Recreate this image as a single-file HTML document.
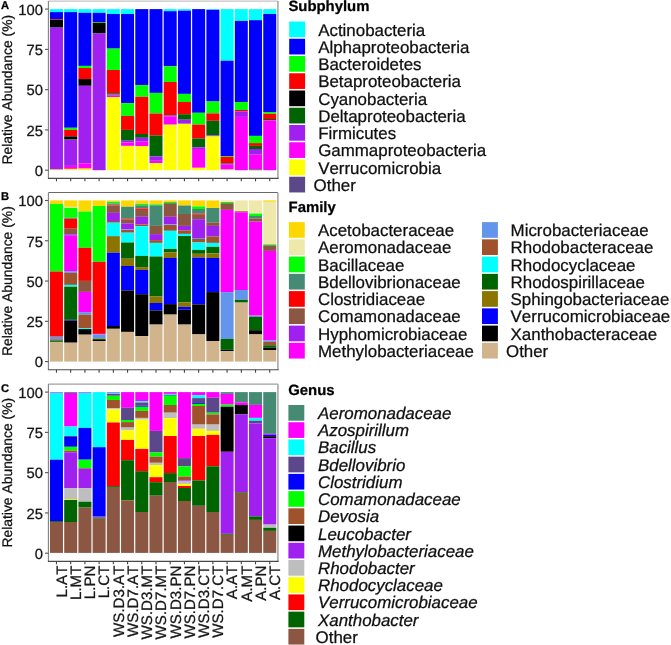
<!DOCTYPE html>
<html><head><meta charset="utf-8"><style>
html,body{margin:0;padding:0;background:#fff;width:671px;height:645px;overflow:hidden}
svg text{font-family:"Liberation Sans", sans-serif;stroke:#000;stroke-width:0.35px;stroke-opacity:0.7;text-rendering:geometricPrecision;font-kerning:none;font-feature-settings:'kern' 0}
</style></head><body>
<svg width="671" height="645" viewBox="0 0 671 645" style="display:block;will-change:transform">
<rect x="0" y="0" width="671" height="645" fill="#fff"/>
<rect x="49.97" y="9.1" width="13" height="3" fill="#00FFFF"/>
<rect x="49.97" y="12.1" width="13" height="7" fill="#0000FF"/>
<rect x="49.97" y="19.1" width="13" height="0.7" fill="#FF0000"/>
<rect x="49.97" y="19.8" width="13" height="7.8" fill="#000000"/>
<rect x="49.97" y="27.6" width="13" height="142" fill="#A020F0"/>
<rect x="49.97" y="169.6" width="13" height="0.6" fill="#FFFF00"/>
<rect x="64.19" y="9.1" width="13" height="3" fill="#00FFFF"/>
<rect x="64.19" y="12.1" width="13" height="115.7" fill="#0000FF"/>
<rect x="64.19" y="127.8" width="13" height="2.1" fill="#00FF00"/>
<rect x="64.19" y="129.9" width="13" height="6.5" fill="#FF0000"/>
<rect x="64.19" y="136.4" width="13" height="3" fill="#000000"/>
<rect x="64.19" y="139.4" width="13" height="0.5" fill="#006400"/>
<rect x="64.19" y="139.9" width="13" height="26" fill="#A020F0"/>
<rect x="64.19" y="165.9" width="13" height="3" fill="#FF00FF"/>
<rect x="64.19" y="168.9" width="13" height="1.3" fill="#FFFF00"/>
<rect x="78.41" y="9.1" width="13" height="3.7" fill="#00FFFF"/>
<rect x="78.41" y="12.8" width="13" height="53.1" fill="#0000FF"/>
<rect x="78.41" y="65.9" width="13" height="2.1" fill="#00FF00"/>
<rect x="78.41" y="68" width="13" height="11.1" fill="#FF0000"/>
<rect x="78.41" y="79.1" width="13" height="6.7" fill="#000000"/>
<rect x="78.41" y="85.8" width="13" height="77.5" fill="#A020F0"/>
<rect x="78.41" y="163.3" width="13" height="5.3" fill="#FF00FF"/>
<rect x="78.41" y="168.6" width="13" height="1.6" fill="#FFFF00"/>
<rect x="92.62" y="9.1" width="13" height="3.7" fill="#00FFFF"/>
<rect x="92.62" y="12.8" width="13" height="9.2" fill="#0000FF"/>
<rect x="92.62" y="22" width="13" height="0.7" fill="#00FF00"/>
<rect x="92.62" y="22.7" width="13" height="10.8" fill="#000000"/>
<rect x="92.62" y="33.5" width="13" height="136.7" fill="#A020F0"/>
<rect x="106.84" y="9.1" width="13" height="4.9" fill="#00FFFF"/>
<rect x="106.84" y="14" width="13" height="34.6" fill="#0000FF"/>
<rect x="106.84" y="48.6" width="13" height="21.4" fill="#00FF00"/>
<rect x="106.84" y="70" width="13" height="23.2" fill="#FF0000"/>
<rect x="106.84" y="93.2" width="13" height="1.3" fill="#006400"/>
<rect x="106.84" y="94.5" width="13" height="1.2" fill="#A020F0"/>
<rect x="106.84" y="95.7" width="13" height="1.3" fill="#FF00FF"/>
<rect x="106.84" y="97" width="13" height="73.2" fill="#FFFF00"/>
<rect x="121.06" y="9.1" width="13" height="4.9" fill="#00FFFF"/>
<rect x="121.06" y="14" width="13" height="89.1" fill="#0000FF"/>
<rect x="121.06" y="103.1" width="13" height="12.8" fill="#00FF00"/>
<rect x="121.06" y="115.9" width="13" height="14" fill="#FF0000"/>
<rect x="121.06" y="129.9" width="13" height="10.8" fill="#006400"/>
<rect x="121.06" y="140.7" width="13" height="1.7" fill="#A020F0"/>
<rect x="121.06" y="142.4" width="13" height="3.5" fill="#FF00FF"/>
<rect x="121.06" y="145.9" width="13" height="24.3" fill="#FFFF00"/>
<rect x="135.28" y="9.1" width="13" height="76" fill="#0000FF"/>
<rect x="135.28" y="85.1" width="13" height="11.7" fill="#00FF00"/>
<rect x="135.28" y="96.8" width="13" height="37.2" fill="#FF0000"/>
<rect x="135.28" y="134" width="13" height="3.8" fill="#006400"/>
<rect x="135.28" y="137.8" width="13" height="3.9" fill="#A020F0"/>
<rect x="135.28" y="141.7" width="13" height="4.6" fill="#FF00FF"/>
<rect x="135.28" y="146.3" width="13" height="23.9" fill="#FFFF00"/>
<rect x="149.5" y="9.1" width="13" height="83.8" fill="#0000FF"/>
<rect x="149.5" y="92.9" width="13" height="20.6" fill="#00FF00"/>
<rect x="149.5" y="113.5" width="13" height="21.9" fill="#FF0000"/>
<rect x="149.5" y="135.4" width="13" height="21" fill="#006400"/>
<rect x="149.5" y="156.4" width="13" height="4.4" fill="#A020F0"/>
<rect x="149.5" y="160.8" width="13" height="2.3" fill="#FF00FF"/>
<rect x="149.5" y="163.1" width="13" height="7.1" fill="#FFFF00"/>
<rect x="163.71" y="9.1" width="13" height="2.1" fill="#00FFFF"/>
<rect x="163.71" y="11.2" width="13" height="55.1" fill="#0000FF"/>
<rect x="163.71" y="66.3" width="13" height="15.7" fill="#00FF00"/>
<rect x="163.71" y="82" width="13" height="33.1" fill="#FF0000"/>
<rect x="163.71" y="115.1" width="13" height="0.6" fill="#006400"/>
<rect x="163.71" y="115.7" width="13" height="0.6" fill="#A020F0"/>
<rect x="163.71" y="116.3" width="13" height="8.4" fill="#FF00FF"/>
<rect x="163.71" y="124.7" width="13" height="45.5" fill="#FFFF00"/>
<rect x="177.93" y="9.1" width="13" height="1.6" fill="#00FFFF"/>
<rect x="177.93" y="10.7" width="13" height="83.2" fill="#0000FF"/>
<rect x="177.93" y="93.9" width="13" height="8.1" fill="#00FF00"/>
<rect x="177.93" y="102" width="13" height="12.2" fill="#FF0000"/>
<rect x="177.93" y="114.2" width="13" height="5.5" fill="#006400"/>
<rect x="177.93" y="119.7" width="13" height="4.1" fill="#A020F0"/>
<rect x="177.93" y="123.8" width="13" height="46.4" fill="#FFFF00"/>
<rect x="192.15" y="9.1" width="13" height="103.7" fill="#0000FF"/>
<rect x="192.15" y="112.8" width="13" height="11.8" fill="#00FF00"/>
<rect x="192.15" y="124.6" width="13" height="13.9" fill="#FF0000"/>
<rect x="192.15" y="138.5" width="13" height="8.8" fill="#006400"/>
<rect x="192.15" y="147.3" width="13" height="1.7" fill="#A020F0"/>
<rect x="192.15" y="149" width="13" height="18.8" fill="#FF00FF"/>
<rect x="192.15" y="167.8" width="13" height="2.4" fill="#FFFF00"/>
<rect x="206.37" y="9.1" width="13" height="0.7" fill="#00FFFF"/>
<rect x="206.37" y="9.8" width="13" height="91.7" fill="#0000FF"/>
<rect x="206.37" y="101.5" width="13" height="11.9" fill="#00FF00"/>
<rect x="206.37" y="113.4" width="13" height="7.4" fill="#FF0000"/>
<rect x="206.37" y="120.8" width="13" height="14.6" fill="#006400"/>
<rect x="206.37" y="135.4" width="13" height="1" fill="#A020F0"/>
<rect x="206.37" y="136.4" width="13" height="33.8" fill="#FFFF00"/>
<rect x="220.59" y="9.1" width="13" height="51.6" fill="#00FFFF"/>
<rect x="220.59" y="60.7" width="13" height="95.3" fill="#0000FF"/>
<rect x="220.59" y="156" width="13" height="0.8" fill="#00FF00"/>
<rect x="220.59" y="156.8" width="13" height="6.3" fill="#FF0000"/>
<rect x="220.59" y="163.1" width="13" height="0.7" fill="#006400"/>
<rect x="220.59" y="163.8" width="13" height="0.9" fill="#A020F0"/>
<rect x="220.59" y="164.7" width="13" height="4.9" fill="#FF00FF"/>
<rect x="220.59" y="169.6" width="13" height="0.6" fill="#FFFF00"/>
<rect x="234.8" y="9.1" width="13" height="11.8" fill="#00FFFF"/>
<rect x="234.8" y="20.9" width="13" height="81.1" fill="#0000FF"/>
<rect x="234.8" y="102" width="13" height="8" fill="#00FF00"/>
<rect x="234.8" y="110" width="13" height="1.4" fill="#FF0000"/>
<rect x="234.8" y="111.4" width="13" height="5.5" fill="#A020F0"/>
<rect x="234.8" y="116.9" width="13" height="53.3" fill="#FF00FF"/>
<rect x="249.02" y="9.1" width="13" height="11.1" fill="#00FFFF"/>
<rect x="249.02" y="20.2" width="13" height="115.7" fill="#0000FF"/>
<rect x="249.02" y="135.9" width="13" height="7.2" fill="#00FF00"/>
<rect x="249.02" y="143.1" width="13" height="2.8" fill="#FF0000"/>
<rect x="249.02" y="145.9" width="13" height="3.1" fill="#006400"/>
<rect x="249.02" y="149" width="13" height="5.7" fill="#A020F0"/>
<rect x="249.02" y="154.7" width="13" height="14.9" fill="#FF00FF"/>
<rect x="249.02" y="169.6" width="13" height="0.6" fill="#006400"/>
<rect x="263.24" y="9.1" width="13" height="4.9" fill="#00FFFF"/>
<rect x="263.24" y="14" width="13" height="98" fill="#0000FF"/>
<rect x="263.24" y="112" width="13" height="1.8" fill="#00FF00"/>
<rect x="263.24" y="113.8" width="13" height="5.2" fill="#FF0000"/>
<rect x="263.24" y="119" width="13" height="1.4" fill="#006400"/>
<rect x="263.24" y="120.4" width="13" height="49.8" fill="#FF00FF"/>
<line x1="48.4" y1="1.1" x2="277.9" y2="1.1" stroke="#c4c4c4" stroke-width="1.2"/>
<line x1="277.9" y1="1.1" x2="277.9" y2="178.35" stroke="#a8a8a8" stroke-width="1.6"/>
<line x1="48.4" y1="1.1" x2="48.4" y2="178.35" stroke="#808080" stroke-width="1.1"/>
<line x1="47.9" y1="178.35" x2="278.7" y2="178.35" stroke="#4a4a4a" stroke-width="1.1"/>
<line x1="45" y1="170.2" x2="48.4" y2="170.2" stroke="#555" stroke-width="1.1"/>
<text x="43" y="176.03" font-size="14.8" text-anchor="end" fill="#1a1a1a">0</text>
<line x1="45" y1="129.92" x2="48.4" y2="129.92" stroke="#555" stroke-width="1.1"/>
<text x="43" y="135.75" font-size="14.8" text-anchor="end" fill="#1a1a1a">25</text>
<line x1="45" y1="89.65" x2="48.4" y2="89.65" stroke="#555" stroke-width="1.1"/>
<text x="43" y="95.48" font-size="14.8" text-anchor="end" fill="#1a1a1a">50</text>
<line x1="45" y1="49.37" x2="48.4" y2="49.37" stroke="#555" stroke-width="1.1"/>
<text x="43" y="55.2" font-size="14.8" text-anchor="end" fill="#1a1a1a">75</text>
<line x1="45" y1="9.1" x2="48.4" y2="9.1" stroke="#555" stroke-width="1.1"/>
<text x="43" y="14.93" font-size="14.8" text-anchor="end" fill="#1a1a1a">100</text>
<line x1="56.47" y1="178.35" x2="56.47" y2="181.35" stroke="#444" stroke-width="1.1"/>
<line x1="70.69" y1="178.35" x2="70.69" y2="181.35" stroke="#444" stroke-width="1.1"/>
<line x1="84.91" y1="178.35" x2="84.91" y2="181.35" stroke="#444" stroke-width="1.1"/>
<line x1="99.12" y1="178.35" x2="99.12" y2="181.35" stroke="#444" stroke-width="1.1"/>
<line x1="113.34" y1="178.35" x2="113.34" y2="181.35" stroke="#444" stroke-width="1.1"/>
<line x1="127.56" y1="178.35" x2="127.56" y2="181.35" stroke="#444" stroke-width="1.1"/>
<line x1="141.78" y1="178.35" x2="141.78" y2="181.35" stroke="#444" stroke-width="1.1"/>
<line x1="156" y1="178.35" x2="156" y2="181.35" stroke="#444" stroke-width="1.1"/>
<line x1="170.21" y1="178.35" x2="170.21" y2="181.35" stroke="#444" stroke-width="1.1"/>
<line x1="184.43" y1="178.35" x2="184.43" y2="181.35" stroke="#444" stroke-width="1.1"/>
<line x1="198.65" y1="178.35" x2="198.65" y2="181.35" stroke="#444" stroke-width="1.1"/>
<line x1="212.87" y1="178.35" x2="212.87" y2="181.35" stroke="#444" stroke-width="1.1"/>
<line x1="227.09" y1="178.35" x2="227.09" y2="181.35" stroke="#444" stroke-width="1.1"/>
<line x1="241.3" y1="178.35" x2="241.3" y2="181.35" stroke="#444" stroke-width="1.1"/>
<line x1="255.52" y1="178.35" x2="255.52" y2="181.35" stroke="#444" stroke-width="1.1"/>
<line x1="269.74" y1="178.35" x2="269.74" y2="181.35" stroke="#444" stroke-width="1.1"/>
<text x="0" y="0" font-size="13.9" text-anchor="middle" fill="#111" transform="translate(12.2,89.72) rotate(-90)">Relative Abundance (%)</text>
<text x="0.9" y="8.6" font-size="11.2" font-weight="bold" fill="#000">A</text>
<rect x="49.97" y="200.4" width="13" height="3.5" fill="#FFD700"/>
<rect x="49.97" y="203.9" width="13" height="67.6" fill="#00FF00"/>
<rect x="49.97" y="271.5" width="13" height="65.2" fill="#FF0000"/>
<rect x="49.97" y="336.7" width="13" height="2.6" fill="#6495ED"/>
<rect x="49.97" y="339.3" width="13" height="1.1" fill="#A0522D"/>
<rect x="49.97" y="340.4" width="13" height="1.5" fill="#006400"/>
<rect x="49.97" y="341.9" width="13" height="19.7" fill="#D2B48C"/>
<rect x="64.19" y="200.4" width="13" height="6.5" fill="#FFD700"/>
<rect x="64.19" y="206.9" width="13" height="0.9" fill="#EEE8AA"/>
<rect x="64.19" y="207.8" width="13" height="10" fill="#00FF00"/>
<rect x="64.19" y="217.8" width="13" height="1" fill="#458B74"/>
<rect x="64.19" y="218.8" width="13" height="9.9" fill="#FF0000"/>
<rect x="64.19" y="228.7" width="13" height="5.6" fill="#8B5742"/>
<rect x="64.19" y="234.3" width="13" height="1.4" fill="#A020F0"/>
<rect x="64.19" y="235.7" width="13" height="35.4" fill="#FF00FF"/>
<rect x="64.19" y="271.1" width="13" height="1.8" fill="#6495ED"/>
<rect x="64.19" y="272.9" width="13" height="12" fill="#A0522D"/>
<rect x="64.19" y="284.9" width="13" height="1.8" fill="#00FFFF"/>
<rect x="64.19" y="286.7" width="13" height="33.1" fill="#006400"/>
<rect x="64.19" y="319.8" width="13" height="0.7" fill="#0000FF"/>
<rect x="64.19" y="320.5" width="13" height="22.2" fill="#000000"/>
<rect x="64.19" y="342.7" width="13" height="18.9" fill="#D2B48C"/>
<rect x="78.41" y="200.4" width="13" height="11.1" fill="#FFD700"/>
<rect x="78.41" y="211.5" width="13" height="36.3" fill="#00FF00"/>
<rect x="78.41" y="247.8" width="13" height="33.1" fill="#FF0000"/>
<rect x="78.41" y="280.9" width="13" height="11" fill="#8B5742"/>
<rect x="78.41" y="291.9" width="13" height="20.2" fill="#FF00FF"/>
<rect x="78.41" y="312.1" width="13" height="2.5" fill="#6495ED"/>
<rect x="78.41" y="314.6" width="13" height="13.5" fill="#A0522D"/>
<rect x="78.41" y="328.1" width="13" height="1" fill="#00FFFF"/>
<rect x="78.41" y="329.1" width="13" height="5.6" fill="#000000"/>
<rect x="78.41" y="334.7" width="13" height="26.9" fill="#D2B48C"/>
<rect x="92.62" y="200.4" width="13" height="5.6" fill="#FFD700"/>
<rect x="92.62" y="206" width="13" height="55.8" fill="#00FF00"/>
<rect x="92.62" y="261.8" width="13" height="72.1" fill="#FF0000"/>
<rect x="92.62" y="333.9" width="13" height="0.6" fill="#FF00FF"/>
<rect x="92.62" y="334.5" width="13" height="3.9" fill="#6495ED"/>
<rect x="92.62" y="338.4" width="13" height="0.6" fill="#A0522D"/>
<rect x="92.62" y="339" width="13" height="1" fill="#006400"/>
<rect x="92.62" y="340" width="13" height="1" fill="#000000"/>
<rect x="92.62" y="341" width="13" height="20.6" fill="#D2B48C"/>
<rect x="106.84" y="200.4" width="13" height="1.4" fill="#FFD700"/>
<rect x="106.84" y="201.8" width="13" height="1.6" fill="#00FF00"/>
<rect x="106.84" y="203.4" width="13" height="1.2" fill="#458B74"/>
<rect x="106.84" y="204.6" width="13" height="0.9" fill="#FF0000"/>
<rect x="106.84" y="205.5" width="13" height="7.4" fill="#8B5742"/>
<rect x="106.84" y="212.9" width="13" height="8.1" fill="#A020F0"/>
<rect x="106.84" y="221" width="13" height="1.7" fill="#A0522D"/>
<rect x="106.84" y="222.7" width="13" height="13.3" fill="#00FFFF"/>
<rect x="106.84" y="236" width="13" height="0.6" fill="#006400"/>
<rect x="106.84" y="236.6" width="13" height="16.1" fill="#8B7500"/>
<rect x="106.84" y="252.7" width="13" height="73.3" fill="#0000FF"/>
<rect x="106.84" y="326" width="13" height="2.8" fill="#000000"/>
<rect x="106.84" y="328.8" width="13" height="32.8" fill="#D2B48C"/>
<rect x="121.06" y="200.4" width="13" height="6.3" fill="#FFD700"/>
<rect x="121.06" y="206.7" width="13" height="11.8" fill="#458B74"/>
<rect x="121.06" y="218.5" width="13" height="1" fill="#FF0000"/>
<rect x="121.06" y="219.5" width="13" height="3.9" fill="#8B5742"/>
<rect x="121.06" y="223.4" width="13" height="6" fill="#A020F0"/>
<rect x="121.06" y="229.4" width="13" height="0.6" fill="#6495ED"/>
<rect x="121.06" y="230" width="13" height="2.7" fill="#A0522D"/>
<rect x="121.06" y="232.7" width="13" height="9.8" fill="#00FFFF"/>
<rect x="121.06" y="242.5" width="13" height="16.2" fill="#006400"/>
<rect x="121.06" y="258.7" width="13" height="7.3" fill="#8B7500"/>
<rect x="121.06" y="266" width="13" height="24.5" fill="#0000FF"/>
<rect x="121.06" y="290.5" width="13" height="41.4" fill="#000000"/>
<rect x="121.06" y="331.9" width="13" height="29.7" fill="#D2B48C"/>
<rect x="135.28" y="200.4" width="13" height="3.5" fill="#FFD700"/>
<rect x="135.28" y="203.9" width="13" height="1.4" fill="#00FF00"/>
<rect x="135.28" y="205.3" width="13" height="3.2" fill="#458B74"/>
<rect x="135.28" y="208.5" width="13" height="1.4" fill="#FF0000"/>
<rect x="135.28" y="209.9" width="13" height="6.9" fill="#8B5742"/>
<rect x="135.28" y="216.8" width="13" height="7.6" fill="#A020F0"/>
<rect x="135.28" y="224.4" width="13" height="1.8" fill="#A0522D"/>
<rect x="135.28" y="226.2" width="13" height="29.7" fill="#00FFFF"/>
<rect x="135.28" y="255.9" width="13" height="11.2" fill="#006400"/>
<rect x="135.28" y="267.1" width="13" height="2.8" fill="#8B7500"/>
<rect x="135.28" y="269.9" width="13" height="24.3" fill="#0000FF"/>
<rect x="135.28" y="294.2" width="13" height="41.9" fill="#000000"/>
<rect x="135.28" y="336.1" width="13" height="25.5" fill="#D2B48C"/>
<rect x="149.5" y="200.4" width="13" height="3.9" fill="#FFD700"/>
<rect x="149.5" y="204.3" width="13" height="1" fill="#00FF00"/>
<rect x="149.5" y="205.3" width="13" height="20.6" fill="#458B74"/>
<rect x="149.5" y="225.9" width="13" height="8.2" fill="#8B5742"/>
<rect x="149.5" y="234.1" width="13" height="6" fill="#A020F0"/>
<rect x="149.5" y="240.1" width="13" height="2.8" fill="#A0522D"/>
<rect x="149.5" y="242.9" width="13" height="13.6" fill="#00FFFF"/>
<rect x="149.5" y="256.5" width="13" height="40" fill="#006400"/>
<rect x="149.5" y="296.5" width="13" height="6.5" fill="#8B7500"/>
<rect x="149.5" y="303" width="13" height="7.4" fill="#0000FF"/>
<rect x="149.5" y="310.4" width="13" height="14.2" fill="#000000"/>
<rect x="149.5" y="324.6" width="13" height="37" fill="#D2B48C"/>
<rect x="163.71" y="200.4" width="13" height="1.6" fill="#FFD700"/>
<rect x="163.71" y="202" width="13" height="1.2" fill="#00FF00"/>
<rect x="163.71" y="203.2" width="13" height="13.6" fill="#8B5742"/>
<rect x="163.71" y="216.8" width="13" height="7.6" fill="#A020F0"/>
<rect x="163.71" y="224.4" width="13" height="0.6" fill="#6495ED"/>
<rect x="163.71" y="225" width="13" height="5.8" fill="#A0522D"/>
<rect x="163.71" y="230.8" width="13" height="18.1" fill="#00FFFF"/>
<rect x="163.71" y="248.9" width="13" height="3.5" fill="#006400"/>
<rect x="163.71" y="252.4" width="13" height="5.6" fill="#8B7500"/>
<rect x="163.71" y="258" width="13" height="46.1" fill="#0000FF"/>
<rect x="163.71" y="304.1" width="13" height="10.5" fill="#000000"/>
<rect x="163.71" y="314.6" width="13" height="47" fill="#D2B48C"/>
<rect x="177.93" y="200.4" width="13" height="5.1" fill="#FFD700"/>
<rect x="177.93" y="205.5" width="13" height="8.5" fill="#458B74"/>
<rect x="177.93" y="214" width="13" height="11.9" fill="#8B5742"/>
<rect x="177.93" y="225.9" width="13" height="4.5" fill="#A020F0"/>
<rect x="177.93" y="230.4" width="13" height="3.5" fill="#A0522D"/>
<rect x="177.93" y="233.9" width="13" height="2.1" fill="#00FFFF"/>
<rect x="177.93" y="236" width="13" height="66.3" fill="#006400"/>
<rect x="177.93" y="302.3" width="13" height="4.6" fill="#8B7500"/>
<rect x="177.93" y="306.9" width="13" height="2.8" fill="#0000FF"/>
<rect x="177.93" y="309.7" width="13" height="14.9" fill="#000000"/>
<rect x="177.93" y="324.6" width="13" height="37" fill="#D2B48C"/>
<rect x="192.15" y="200.4" width="13" height="6" fill="#FFD700"/>
<rect x="192.15" y="206.4" width="13" height="2.6" fill="#00FF00"/>
<rect x="192.15" y="209" width="13" height="4.6" fill="#458B74"/>
<rect x="192.15" y="213.6" width="13" height="1.1" fill="#FF0000"/>
<rect x="192.15" y="214.7" width="13" height="4.5" fill="#8B5742"/>
<rect x="192.15" y="219.2" width="13" height="18.8" fill="#A020F0"/>
<rect x="192.15" y="238" width="13" height="1" fill="#6495ED"/>
<rect x="192.15" y="239" width="13" height="3.5" fill="#A0522D"/>
<rect x="192.15" y="242.5" width="13" height="7.4" fill="#00FFFF"/>
<rect x="192.15" y="249.9" width="13" height="3.9" fill="#006400"/>
<rect x="192.15" y="253.8" width="13" height="3.8" fill="#8B7500"/>
<rect x="192.15" y="257.6" width="13" height="46.8" fill="#0000FF"/>
<rect x="192.15" y="304.4" width="13" height="30" fill="#000000"/>
<rect x="192.15" y="334.4" width="13" height="27.2" fill="#D2B48C"/>
<rect x="206.37" y="200.4" width="13" height="7.6" fill="#FFD700"/>
<rect x="206.37" y="208" width="13" height="14.4" fill="#458B74"/>
<rect x="206.37" y="222.4" width="13" height="3.5" fill="#8B5742"/>
<rect x="206.37" y="225.9" width="13" height="10.5" fill="#A020F0"/>
<rect x="206.37" y="236.4" width="13" height="6.5" fill="#A0522D"/>
<rect x="206.37" y="242.9" width="13" height="3.9" fill="#00FFFF"/>
<rect x="206.37" y="246.8" width="13" height="6.6" fill="#006400"/>
<rect x="206.37" y="253.4" width="13" height="4.6" fill="#8B7500"/>
<rect x="206.37" y="258" width="13" height="34.1" fill="#0000FF"/>
<rect x="206.37" y="292.1" width="13" height="48.9" fill="#000000"/>
<rect x="206.37" y="341" width="13" height="20.6" fill="#D2B48C"/>
<rect x="220.59" y="200.4" width="13" height="1.6" fill="#EEE8AA"/>
<rect x="220.59" y="202" width="13" height="1.2" fill="#00FF00"/>
<rect x="220.59" y="203.2" width="13" height="6.7" fill="#8B5742"/>
<rect x="220.59" y="209.9" width="13" height="82.2" fill="#FF00FF"/>
<rect x="220.59" y="292.1" width="13" height="46.8" fill="#6495ED"/>
<rect x="220.59" y="338.9" width="13" height="10.9" fill="#006400"/>
<rect x="220.59" y="349.8" width="13" height="1.4" fill="#000000"/>
<rect x="220.59" y="351.2" width="13" height="10.4" fill="#D2B48C"/>
<rect x="234.8" y="200.4" width="13" height="10.9" fill="#EEE8AA"/>
<rect x="234.8" y="211.3" width="13" height="0.9" fill="#8B5742"/>
<rect x="234.8" y="212.2" width="13" height="77.8" fill="#FF00FF"/>
<rect x="234.8" y="290" width="13" height="9.8" fill="#6495ED"/>
<rect x="234.8" y="299.8" width="13" height="2.8" fill="#006400"/>
<rect x="234.8" y="302.6" width="13" height="59" fill="#D2B48C"/>
<rect x="249.02" y="200.4" width="13" height="13.2" fill="#EEE8AA"/>
<rect x="249.02" y="213.6" width="13" height="2.4" fill="#00FF00"/>
<rect x="249.02" y="216" width="13" height="2.5" fill="#458B74"/>
<rect x="249.02" y="218.5" width="13" height="3.1" fill="#8B5742"/>
<rect x="249.02" y="221.6" width="13" height="94" fill="#FF00FF"/>
<rect x="249.02" y="315.6" width="13" height="1.1" fill="#6495ED"/>
<rect x="249.02" y="316.7" width="13" height="13.5" fill="#006400"/>
<rect x="249.02" y="330.2" width="13" height="4.2" fill="#000000"/>
<rect x="249.02" y="334.4" width="13" height="27.2" fill="#D2B48C"/>
<rect x="263.24" y="200.4" width="13" height="1.4" fill="#FFD700"/>
<rect x="263.24" y="201.8" width="13" height="42.5" fill="#EEE8AA"/>
<rect x="263.24" y="244.3" width="13" height="1" fill="#00FF00"/>
<rect x="263.24" y="245.3" width="13" height="5.6" fill="#8B5742"/>
<rect x="263.24" y="250.9" width="13" height="89.4" fill="#FF00FF"/>
<rect x="263.24" y="340.3" width="13" height="1.5" fill="#6495ED"/>
<rect x="263.24" y="341.8" width="13" height="3.5" fill="#A0522D"/>
<rect x="263.24" y="345.3" width="13" height="2.4" fill="#006400"/>
<rect x="263.24" y="347.7" width="13" height="2.3" fill="#000000"/>
<rect x="263.24" y="350" width="13" height="11.6" fill="#D2B48C"/>
<line x1="48.4" y1="192.5" x2="277.9" y2="192.5" stroke="#6a6a6a" stroke-width="1.2"/>
<line x1="277.9" y1="192.5" x2="277.9" y2="369.75" stroke="#a8a8a8" stroke-width="1.6"/>
<line x1="48.4" y1="192.5" x2="48.4" y2="369.75" stroke="#808080" stroke-width="1.1"/>
<line x1="47.9" y1="369.75" x2="278.7" y2="369.75" stroke="#4a4a4a" stroke-width="1.1"/>
<line x1="45" y1="361.6" x2="48.4" y2="361.6" stroke="#555" stroke-width="1.1"/>
<text x="43" y="367.43" font-size="14.8" text-anchor="end" fill="#1a1a1a">0</text>
<line x1="45" y1="321.33" x2="48.4" y2="321.33" stroke="#555" stroke-width="1.1"/>
<text x="43" y="327.15" font-size="14.8" text-anchor="end" fill="#1a1a1a">25</text>
<line x1="45" y1="281.05" x2="48.4" y2="281.05" stroke="#555" stroke-width="1.1"/>
<text x="43" y="286.88" font-size="14.8" text-anchor="end" fill="#1a1a1a">50</text>
<line x1="45" y1="240.78" x2="48.4" y2="240.78" stroke="#555" stroke-width="1.1"/>
<text x="43" y="246.6" font-size="14.8" text-anchor="end" fill="#1a1a1a">75</text>
<line x1="45" y1="200.5" x2="48.4" y2="200.5" stroke="#555" stroke-width="1.1"/>
<text x="43" y="206.33" font-size="14.8" text-anchor="end" fill="#1a1a1a">100</text>
<line x1="56.47" y1="369.75" x2="56.47" y2="372.75" stroke="#444" stroke-width="1.1"/>
<line x1="70.69" y1="369.75" x2="70.69" y2="372.75" stroke="#444" stroke-width="1.1"/>
<line x1="84.91" y1="369.75" x2="84.91" y2="372.75" stroke="#444" stroke-width="1.1"/>
<line x1="99.12" y1="369.75" x2="99.12" y2="372.75" stroke="#444" stroke-width="1.1"/>
<line x1="113.34" y1="369.75" x2="113.34" y2="372.75" stroke="#444" stroke-width="1.1"/>
<line x1="127.56" y1="369.75" x2="127.56" y2="372.75" stroke="#444" stroke-width="1.1"/>
<line x1="141.78" y1="369.75" x2="141.78" y2="372.75" stroke="#444" stroke-width="1.1"/>
<line x1="156" y1="369.75" x2="156" y2="372.75" stroke="#444" stroke-width="1.1"/>
<line x1="170.21" y1="369.75" x2="170.21" y2="372.75" stroke="#444" stroke-width="1.1"/>
<line x1="184.43" y1="369.75" x2="184.43" y2="372.75" stroke="#444" stroke-width="1.1"/>
<line x1="198.65" y1="369.75" x2="198.65" y2="372.75" stroke="#444" stroke-width="1.1"/>
<line x1="212.87" y1="369.75" x2="212.87" y2="372.75" stroke="#444" stroke-width="1.1"/>
<line x1="227.09" y1="369.75" x2="227.09" y2="372.75" stroke="#444" stroke-width="1.1"/>
<line x1="241.3" y1="369.75" x2="241.3" y2="372.75" stroke="#444" stroke-width="1.1"/>
<line x1="255.52" y1="369.75" x2="255.52" y2="372.75" stroke="#444" stroke-width="1.1"/>
<line x1="269.74" y1="369.75" x2="269.74" y2="372.75" stroke="#444" stroke-width="1.1"/>
<text x="0" y="0" font-size="13.9" text-anchor="middle" fill="#111" transform="translate(12.2,281.12) rotate(-90)">Relative Abundance (%)</text>
<text x="0.9" y="200" font-size="11.2" font-weight="bold" fill="#000">B</text>
<rect x="49.97" y="392.1" width="13" height="0.7" fill="#FF00FF"/>
<rect x="49.97" y="392.8" width="13" height="66.9" fill="#00FFFF"/>
<rect x="49.97" y="459.7" width="13" height="61.4" fill="#0000FF"/>
<rect x="49.97" y="521.1" width="13" height="0.9" fill="#006400"/>
<rect x="49.97" y="522" width="13" height="30.9" fill="#8B5742"/>
<rect x="64.19" y="392.1" width="13" height="0.9" fill="#458B74"/>
<rect x="64.19" y="393" width="13" height="33.5" fill="#FF00FF"/>
<rect x="64.19" y="426.5" width="13" height="9.5" fill="#00FFFF"/>
<rect x="64.19" y="436" width="13" height="1" fill="#5D478B"/>
<rect x="64.19" y="437" width="13" height="9.8" fill="#0000FF"/>
<rect x="64.19" y="446.8" width="13" height="3.9" fill="#00FF00"/>
<rect x="64.19" y="450.7" width="13" height="1.6" fill="#A0522D"/>
<rect x="64.19" y="452.3" width="13" height="35.7" fill="#A020F0"/>
<rect x="64.19" y="488" width="13" height="11.2" fill="#BEBEBE"/>
<rect x="64.19" y="499.2" width="13" height="0.7" fill="#FFFF00"/>
<rect x="64.19" y="499.9" width="13" height="22.1" fill="#006400"/>
<rect x="64.19" y="522" width="13" height="30.9" fill="#8B5742"/>
<rect x="78.41" y="392.1" width="13" height="0.7" fill="#FF00FF"/>
<rect x="78.41" y="392.8" width="13" height="35.1" fill="#00FFFF"/>
<rect x="78.41" y="427.9" width="13" height="31.8" fill="#0000FF"/>
<rect x="78.41" y="459.7" width="13" height="8.4" fill="#00FF00"/>
<rect x="78.41" y="468.1" width="13" height="0.7" fill="#A0522D"/>
<rect x="78.41" y="468.8" width="13" height="19.5" fill="#A020F0"/>
<rect x="78.41" y="488.3" width="13" height="13.4" fill="#BEBEBE"/>
<rect x="78.41" y="501.7" width="13" height="5.9" fill="#006400"/>
<rect x="78.41" y="507.6" width="13" height="45.3" fill="#8B5742"/>
<rect x="92.62" y="392.1" width="13" height="55.1" fill="#00FFFF"/>
<rect x="92.62" y="447.2" width="13" height="69.4" fill="#0000FF"/>
<rect x="92.62" y="516.6" width="13" height="1" fill="#A020F0"/>
<rect x="92.62" y="517.6" width="13" height="1.1" fill="#006400"/>
<rect x="92.62" y="518.7" width="13" height="34.2" fill="#8B5742"/>
<rect x="106.84" y="392.1" width="13" height="0.7" fill="#FF00FF"/>
<rect x="106.84" y="392.8" width="13" height="1.1" fill="#00FFFF"/>
<rect x="106.84" y="393.9" width="13" height="1.9" fill="#5D478B"/>
<rect x="106.84" y="395.8" width="13" height="4.2" fill="#00FF00"/>
<rect x="106.84" y="400" width="13" height="8.1" fill="#A0522D"/>
<rect x="106.84" y="408.1" width="13" height="1.4" fill="#BEBEBE"/>
<rect x="106.84" y="409.5" width="13" height="13" fill="#FFFF00"/>
<rect x="106.84" y="422.5" width="13" height="63.5" fill="#FF0000"/>
<rect x="106.84" y="486" width="13" height="0.9" fill="#006400"/>
<rect x="106.84" y="486.9" width="13" height="66" fill="#8B5742"/>
<rect x="121.06" y="392.1" width="13" height="15.7" fill="#FF00FF"/>
<rect x="121.06" y="407.8" width="13" height="12.2" fill="#5D478B"/>
<rect x="121.06" y="420" width="13" height="2.1" fill="#00FF00"/>
<rect x="121.06" y="422.1" width="13" height="5.5" fill="#A0522D"/>
<rect x="121.06" y="427.6" width="13" height="2.8" fill="#BEBEBE"/>
<rect x="121.06" y="430.4" width="13" height="9.5" fill="#FFFF00"/>
<rect x="121.06" y="439.9" width="13" height="20.3" fill="#FF0000"/>
<rect x="121.06" y="460.2" width="13" height="40.1" fill="#006400"/>
<rect x="121.06" y="500.3" width="13" height="52.6" fill="#8B5742"/>
<rect x="135.28" y="392.1" width="13" height="9" fill="#FF00FF"/>
<rect x="135.28" y="401.1" width="13" height="1.4" fill="#00FFFF"/>
<rect x="135.28" y="402.5" width="13" height="3.2" fill="#5D478B"/>
<rect x="135.28" y="405.7" width="13" height="1.1" fill="#0000FF"/>
<rect x="135.28" y="406.8" width="13" height="4.1" fill="#00FF00"/>
<rect x="135.28" y="410.9" width="13" height="7" fill="#A0522D"/>
<rect x="135.28" y="417.9" width="13" height="1.7" fill="#BEBEBE"/>
<rect x="135.28" y="419.6" width="13" height="29.3" fill="#FFFF00"/>
<rect x="135.28" y="448.9" width="13" height="22.3" fill="#FF0000"/>
<rect x="135.28" y="471.2" width="13" height="40.8" fill="#006400"/>
<rect x="135.28" y="512" width="13" height="40.9" fill="#8B5742"/>
<rect x="149.5" y="392.1" width="13" height="38.8" fill="#FF00FF"/>
<rect x="149.5" y="430.9" width="13" height="21.6" fill="#5D478B"/>
<rect x="149.5" y="452.5" width="13" height="4.2" fill="#00FF00"/>
<rect x="149.5" y="456.7" width="13" height="6.1" fill="#A0522D"/>
<rect x="149.5" y="462.8" width="13" height="2.2" fill="#BEBEBE"/>
<rect x="149.5" y="465" width="13" height="12.2" fill="#FFFF00"/>
<rect x="149.5" y="477.2" width="13" height="5" fill="#FF0000"/>
<rect x="149.5" y="482.2" width="13" height="13.5" fill="#006400"/>
<rect x="149.5" y="495.7" width="13" height="57.2" fill="#8B5742"/>
<rect x="163.71" y="392.1" width="13" height="1.8" fill="#FF00FF"/>
<rect x="163.71" y="393.9" width="13" height="1" fill="#00FFFF"/>
<rect x="163.71" y="394.9" width="13" height="0.9" fill="#5D478B"/>
<rect x="163.71" y="395.8" width="13" height="9.2" fill="#00FF00"/>
<rect x="163.71" y="405" width="13" height="7.7" fill="#A0522D"/>
<rect x="163.71" y="412.7" width="13" height="5.5" fill="#BEBEBE"/>
<rect x="163.71" y="418.2" width="13" height="17.8" fill="#FFFF00"/>
<rect x="163.71" y="436" width="13" height="37.1" fill="#FF0000"/>
<rect x="163.71" y="473.1" width="13" height="8.9" fill="#006400"/>
<rect x="163.71" y="482" width="13" height="70.9" fill="#8B5742"/>
<rect x="177.93" y="392.1" width="13" height="66" fill="#FF00FF"/>
<rect x="177.93" y="458.1" width="13" height="8.2" fill="#5D478B"/>
<rect x="177.93" y="466.3" width="13" height="10.3" fill="#00FF00"/>
<rect x="177.93" y="476.6" width="13" height="3.4" fill="#A0522D"/>
<rect x="177.93" y="480" width="13" height="0.8" fill="#A020F0"/>
<rect x="177.93" y="480.8" width="13" height="3.1" fill="#BEBEBE"/>
<rect x="177.93" y="483.9" width="13" height="2.1" fill="#FFFF00"/>
<rect x="177.93" y="486" width="13" height="2" fill="#FF0000"/>
<rect x="177.93" y="488" width="13" height="13" fill="#006400"/>
<rect x="177.93" y="501" width="13" height="51.9" fill="#8B5742"/>
<rect x="192.15" y="392.1" width="13" height="3.2" fill="#FF00FF"/>
<rect x="192.15" y="395.3" width="13" height="2.8" fill="#00FFFF"/>
<rect x="192.15" y="398.1" width="13" height="4.9" fill="#5D478B"/>
<rect x="192.15" y="403" width="13" height="0.9" fill="#0000FF"/>
<rect x="192.15" y="403.9" width="13" height="2.1" fill="#00FF00"/>
<rect x="192.15" y="406" width="13" height="18.6" fill="#A0522D"/>
<rect x="192.15" y="424.6" width="13" height="4.2" fill="#BEBEBE"/>
<rect x="192.15" y="428.8" width="13" height="7.2" fill="#FFFF00"/>
<rect x="192.15" y="436" width="13" height="44.4" fill="#FF0000"/>
<rect x="192.15" y="480.4" width="13" height="25.4" fill="#006400"/>
<rect x="192.15" y="505.8" width="13" height="47.1" fill="#8B5742"/>
<rect x="206.37" y="392.1" width="13" height="5.6" fill="#FF00FF"/>
<rect x="206.37" y="397.7" width="13" height="15" fill="#5D478B"/>
<rect x="206.37" y="412.7" width="13" height="1.7" fill="#00FF00"/>
<rect x="206.37" y="414.4" width="13" height="10.2" fill="#A0522D"/>
<rect x="206.37" y="424.6" width="13" height="6.3" fill="#BEBEBE"/>
<rect x="206.37" y="430.9" width="13" height="4" fill="#FFFF00"/>
<rect x="206.37" y="434.9" width="13" height="31.4" fill="#FF0000"/>
<rect x="206.37" y="466.3" width="13" height="45.7" fill="#006400"/>
<rect x="206.37" y="512" width="13" height="40.9" fill="#8B5742"/>
<rect x="220.59" y="392.1" width="13" height="1.8" fill="#458B74"/>
<rect x="220.59" y="393.9" width="13" height="10.7" fill="#FF00FF"/>
<rect x="220.59" y="404.6" width="13" height="2.1" fill="#00FF00"/>
<rect x="220.59" y="406.7" width="13" height="45.1" fill="#000000"/>
<rect x="220.59" y="451.8" width="13" height="82" fill="#A020F0"/>
<rect x="220.59" y="533.8" width="13" height="1" fill="#006400"/>
<rect x="220.59" y="534.8" width="13" height="18.1" fill="#8B5742"/>
<rect x="234.8" y="392.1" width="13" height="10.2" fill="#458B74"/>
<rect x="234.8" y="402.3" width="13" height="2.7" fill="#FF00FF"/>
<rect x="234.8" y="405" width="13" height="9.4" fill="#000000"/>
<rect x="234.8" y="414.4" width="13" height="77.8" fill="#A020F0"/>
<rect x="234.8" y="492.2" width="13" height="0.7" fill="#006400"/>
<rect x="234.8" y="492.9" width="13" height="60" fill="#8B5742"/>
<rect x="249.02" y="392.1" width="13" height="12.8" fill="#458B74"/>
<rect x="249.02" y="404.9" width="13" height="13" fill="#FF00FF"/>
<rect x="249.02" y="417.9" width="13" height="2.8" fill="#00FFFF"/>
<rect x="249.02" y="420.7" width="13" height="2.8" fill="#5D478B"/>
<rect x="249.02" y="423.5" width="13" height="92.9" fill="#A020F0"/>
<rect x="249.02" y="516.4" width="13" height="3.5" fill="#006400"/>
<rect x="249.02" y="519.9" width="13" height="33" fill="#8B5742"/>
<rect x="263.24" y="392.1" width="13" height="41.8" fill="#458B74"/>
<rect x="263.24" y="433.9" width="13" height="0.9" fill="#FF00FF"/>
<rect x="263.24" y="434.8" width="13" height="1.4" fill="#0000FF"/>
<rect x="263.24" y="436.2" width="13" height="2" fill="#000000"/>
<rect x="263.24" y="438.2" width="13" height="86.4" fill="#A020F0"/>
<rect x="263.24" y="524.6" width="13" height="3.2" fill="#BEBEBE"/>
<rect x="263.24" y="527.8" width="13" height="3.1" fill="#006400"/>
<rect x="263.24" y="530.9" width="13" height="22" fill="#8B5742"/>
<line x1="48.4" y1="384.1" x2="277.9" y2="384.1" stroke="#a0a0a0" stroke-width="1.2"/>
<line x1="277.9" y1="384.1" x2="277.9" y2="561.35" stroke="#a8a8a8" stroke-width="1.6"/>
<line x1="48.4" y1="384.1" x2="48.4" y2="561.35" stroke="#808080" stroke-width="1.1"/>
<line x1="47.9" y1="561.35" x2="278.7" y2="561.35" stroke="#4a4a4a" stroke-width="1.1"/>
<line x1="45" y1="553.2" x2="48.4" y2="553.2" stroke="#555" stroke-width="1.1"/>
<text x="43" y="559.03" font-size="14.8" text-anchor="end" fill="#1a1a1a">0</text>
<line x1="45" y1="512.93" x2="48.4" y2="512.93" stroke="#555" stroke-width="1.1"/>
<text x="43" y="518.75" font-size="14.8" text-anchor="end" fill="#1a1a1a">25</text>
<line x1="45" y1="472.65" x2="48.4" y2="472.65" stroke="#555" stroke-width="1.1"/>
<text x="43" y="478.48" font-size="14.8" text-anchor="end" fill="#1a1a1a">50</text>
<line x1="45" y1="432.38" x2="48.4" y2="432.38" stroke="#555" stroke-width="1.1"/>
<text x="43" y="438.2" font-size="14.8" text-anchor="end" fill="#1a1a1a">75</text>
<line x1="45" y1="392.1" x2="48.4" y2="392.1" stroke="#555" stroke-width="1.1"/>
<text x="43" y="397.93" font-size="14.8" text-anchor="end" fill="#1a1a1a">100</text>
<line x1="56.47" y1="561.35" x2="56.47" y2="564.35" stroke="#444" stroke-width="1.1"/>
<line x1="70.69" y1="561.35" x2="70.69" y2="564.35" stroke="#444" stroke-width="1.1"/>
<line x1="84.91" y1="561.35" x2="84.91" y2="564.35" stroke="#444" stroke-width="1.1"/>
<line x1="99.12" y1="561.35" x2="99.12" y2="564.35" stroke="#444" stroke-width="1.1"/>
<line x1="113.34" y1="561.35" x2="113.34" y2="564.35" stroke="#444" stroke-width="1.1"/>
<line x1="127.56" y1="561.35" x2="127.56" y2="564.35" stroke="#444" stroke-width="1.1"/>
<line x1="141.78" y1="561.35" x2="141.78" y2="564.35" stroke="#444" stroke-width="1.1"/>
<line x1="156" y1="561.35" x2="156" y2="564.35" stroke="#444" stroke-width="1.1"/>
<line x1="170.21" y1="561.35" x2="170.21" y2="564.35" stroke="#444" stroke-width="1.1"/>
<line x1="184.43" y1="561.35" x2="184.43" y2="564.35" stroke="#444" stroke-width="1.1"/>
<line x1="198.65" y1="561.35" x2="198.65" y2="564.35" stroke="#444" stroke-width="1.1"/>
<line x1="212.87" y1="561.35" x2="212.87" y2="564.35" stroke="#444" stroke-width="1.1"/>
<line x1="227.09" y1="561.35" x2="227.09" y2="564.35" stroke="#444" stroke-width="1.1"/>
<line x1="241.3" y1="561.35" x2="241.3" y2="564.35" stroke="#444" stroke-width="1.1"/>
<line x1="255.52" y1="561.35" x2="255.52" y2="564.35" stroke="#444" stroke-width="1.1"/>
<line x1="269.74" y1="561.35" x2="269.74" y2="564.35" stroke="#444" stroke-width="1.1"/>
<text x="0" y="0" font-size="13.9" text-anchor="middle" fill="#111" transform="translate(12.2,472.73) rotate(-90)">Relative Abundance (%)</text>
<text x="0.9" y="391.6" font-size="11.2" font-weight="bold" fill="#000">C</text>
<text x="0" y="0" font-size="15.1" text-anchor="end" fill="#1a1a1a" transform="translate(66.77,565.6) rotate(-90)">L.AT</text>
<text x="0" y="0" font-size="15.1" text-anchor="end" fill="#1a1a1a" transform="translate(80.99,565.6) rotate(-90)">L.MT</text>
<text x="0" y="0" font-size="15.1" text-anchor="end" fill="#1a1a1a" transform="translate(95.21,565.6) rotate(-90)">L.PN</text>
<text x="0" y="0" font-size="15.1" text-anchor="end" fill="#1a1a1a" transform="translate(109.42,565.6) rotate(-90)">L.CT</text>
<text x="0" y="0" font-size="15.1" text-anchor="end" fill="#1a1a1a" transform="translate(123.64,565.6) rotate(-90)">WS.D3.AT</text>
<text x="0" y="0" font-size="15.1" text-anchor="end" fill="#1a1a1a" transform="translate(137.86,565.6) rotate(-90)">WS.D7.AT</text>
<text x="0" y="0" font-size="15.1" text-anchor="end" fill="#1a1a1a" transform="translate(152.08,565.6) rotate(-90)">WS.D3.MT</text>
<text x="0" y="0" font-size="15.1" text-anchor="end" fill="#1a1a1a" transform="translate(166.3,565.6) rotate(-90)">WS.D7.MT</text>
<text x="0" y="0" font-size="15.1" text-anchor="end" fill="#1a1a1a" transform="translate(180.51,565.6) rotate(-90)">WS.D3.PN</text>
<text x="0" y="0" font-size="15.1" text-anchor="end" fill="#1a1a1a" transform="translate(194.73,565.6) rotate(-90)">WS.D7.PN</text>
<text x="0" y="0" font-size="15.1" text-anchor="end" fill="#1a1a1a" transform="translate(208.95,565.6) rotate(-90)">WS.D3.CT</text>
<text x="0" y="0" font-size="15.1" text-anchor="end" fill="#1a1a1a" transform="translate(223.17,565.6) rotate(-90)">WS.D7.CT</text>
<text x="0" y="0" font-size="15.1" text-anchor="end" fill="#1a1a1a" transform="translate(237.39,565.6) rotate(-90)">A.AT</text>
<text x="0" y="0" font-size="15.1" text-anchor="end" fill="#1a1a1a" transform="translate(251.6,565.6) rotate(-90)">A.MT</text>
<text x="0" y="0" font-size="15.1" text-anchor="end" fill="#1a1a1a" transform="translate(265.82,565.6) rotate(-90)">A.PN</text>
<text x="0" y="0" font-size="15.1" text-anchor="end" fill="#1a1a1a" transform="translate(280.04,565.6) rotate(-90)">A.CT</text>
<text x="288.4" y="11.2" font-size="14.9" font-weight="bold" fill="#000">Subphylum</text>
<rect x="289.2" y="21.5" width="15.9" height="15.7" fill="#00FFFF"/>
<text x="318.2" y="35.5" font-size="16.9" fill="#111">Actinobacteria</text>
<rect x="289.2" y="38.75" width="15.9" height="15.7" fill="#0000FF"/>
<text x="318.2" y="52.75" font-size="16.9" fill="#111">Alphaproteobacteria</text>
<rect x="289.2" y="56" width="15.9" height="15.7" fill="#00FF00"/>
<text x="318.2" y="70" font-size="16.9" fill="#111">Bacteroidetes</text>
<rect x="289.2" y="73.25" width="15.9" height="15.7" fill="#FF0000"/>
<text x="318.2" y="87.25" font-size="16.9" fill="#111">Betaproteobacteria</text>
<rect x="289.2" y="90.5" width="15.9" height="15.7" fill="#000000"/>
<text x="318.2" y="104.5" font-size="16.9" fill="#111">Cyanobacteria</text>
<rect x="289.2" y="107.75" width="15.9" height="15.7" fill="#006400"/>
<text x="318.2" y="121.75" font-size="16.9" fill="#111">Deltaproteobacteria</text>
<rect x="289.2" y="125" width="15.9" height="15.7" fill="#A020F0"/>
<text x="318.2" y="139" font-size="16.9" fill="#111">Firmicutes</text>
<rect x="289.2" y="142.25" width="15.9" height="15.7" fill="#FF00FF"/>
<text x="318.2" y="156.25" font-size="16.9" fill="#111">Gammaproteobacteria</text>
<rect x="289.2" y="159.5" width="15.9" height="15.7" fill="#FFFF00"/>
<text x="318.2" y="173.5" font-size="16.9" fill="#111">Verrucomicrobia</text>
<rect x="289.2" y="176.75" width="15.9" height="15.7" fill="#5D478B"/>
<text x="313.6" y="190.75" font-size="16.9" fill="#111">Other</text>
<text x="288.6" y="212.2" font-size="14.9" font-weight="bold" fill="#000">Family</text>
<rect x="288.9" y="222.1" width="15.9" height="15.7" fill="#FFD700"/>
<text x="318" y="236.1" font-size="16.9" fill="#111">Acetobacteraceae</text>
<rect x="288.9" y="239.35" width="15.9" height="15.7" fill="#EEE8AA"/>
<text x="318" y="253.35" font-size="16.9" fill="#111">Aeromonadaceae</text>
<rect x="288.9" y="256.6" width="15.9" height="15.7" fill="#00FF00"/>
<text x="318" y="270.6" font-size="16.9" fill="#111">Bacillaceae</text>
<rect x="288.9" y="273.85" width="15.9" height="15.7" fill="#458B74"/>
<text x="318" y="287.85" font-size="16.9" fill="#111">Bdellovibrionaceae</text>
<rect x="288.9" y="291.1" width="15.9" height="15.7" fill="#FF0000"/>
<text x="318" y="305.1" font-size="16.9" fill="#111">Clostridiaceae</text>
<rect x="288.9" y="308.35" width="15.9" height="15.7" fill="#8B5742"/>
<text x="318" y="322.35" font-size="16.9" fill="#111">Comamonadaceae</text>
<rect x="288.9" y="325.6" width="15.9" height="15.7" fill="#A020F0"/>
<text x="318" y="339.6" font-size="16.9" fill="#111">Hyphomicrobiaceae</text>
<rect x="288.9" y="342.85" width="15.9" height="15.7" fill="#FF00FF"/>
<text x="318" y="356.85" font-size="16.9" fill="#111">Methylobacteriaceae</text>
<rect x="482" y="222.1" width="15.9" height="15.7" fill="#6495ED"/>
<text x="510.6" y="236.1" font-size="16.9" fill="#111">Microbacteriaceae</text>
<rect x="482" y="239.35" width="15.9" height="15.7" fill="#A0522D"/>
<text x="510.6" y="253.35" font-size="16.9" fill="#111">Rhodobacteraceae</text>
<rect x="482" y="256.6" width="15.9" height="15.7" fill="#00FFFF"/>
<text x="510.6" y="270.6" font-size="16.9" fill="#111">Rhodocyclaceae</text>
<rect x="482" y="273.85" width="15.9" height="15.7" fill="#006400"/>
<text x="510.6" y="287.85" font-size="16.9" fill="#111">Rhodospirillaceae</text>
<rect x="482" y="291.1" width="15.9" height="15.7" fill="#8B7500"/>
<text x="510.6" y="305.1" font-size="16.9" fill="#111">Sphingobacteriaceae</text>
<rect x="482" y="308.35" width="15.9" height="15.7" fill="#0000FF"/>
<text x="510.6" y="322.35" font-size="16.9" fill="#111">Verrucomicrobiaceae</text>
<rect x="482" y="325.6" width="15.9" height="15.7" fill="#000000"/>
<text x="510.6" y="339.6" font-size="16.9" fill="#111">Xanthobacteraceae</text>
<rect x="482" y="342.85" width="15.9" height="15.7" fill="#D2B48C"/>
<text x="506" y="356.85" font-size="16.9" fill="#111">Other</text>
<text x="288.2" y="395.2" font-size="14.9" font-weight="bold" fill="#000">Genus</text>
<rect x="288.4" y="405" width="15.9" height="15.7" fill="#458B74"/>
<text x="318" y="419" font-size="16.9" fill="#111" font-style="italic">Aeromonadaceae</text>
<rect x="288.4" y="422.22" width="15.9" height="15.7" fill="#FF00FF"/>
<text x="318" y="436.22" font-size="16.9" fill="#111" font-style="italic">Azospirillum</text>
<rect x="288.4" y="439.44" width="15.9" height="15.7" fill="#00FFFF"/>
<text x="318" y="453.44" font-size="16.9" fill="#111" font-style="italic">Bacillus</text>
<rect x="288.4" y="456.66" width="15.9" height="15.7" fill="#5D478B"/>
<text x="318" y="470.66" font-size="16.9" fill="#111" font-style="italic">Bdellovibrio</text>
<rect x="288.4" y="473.88" width="15.9" height="15.7" fill="#0000FF"/>
<text x="318" y="487.88" font-size="16.9" fill="#111" font-style="italic">Clostridium</text>
<rect x="288.4" y="491.1" width="15.9" height="15.7" fill="#00FF00"/>
<text x="318" y="505.1" font-size="16.9" fill="#111" font-style="italic">Comamonadaceae</text>
<rect x="288.4" y="508.32" width="15.9" height="15.7" fill="#A0522D"/>
<text x="318" y="522.32" font-size="16.9" fill="#111" font-style="italic">Devosia</text>
<rect x="288.4" y="525.54" width="15.9" height="15.7" fill="#000000"/>
<text x="318" y="539.54" font-size="16.9" fill="#111" font-style="italic">Leucobacter</text>
<rect x="288.4" y="542.76" width="15.9" height="15.7" fill="#A020F0"/>
<text x="318" y="556.76" font-size="16.9" fill="#111" font-style="italic">Methylobacteriaceae</text>
<rect x="288.4" y="559.98" width="15.9" height="15.7" fill="#BEBEBE"/>
<text x="318" y="573.98" font-size="16.9" fill="#111" font-style="italic">Rhodobacter</text>
<rect x="288.4" y="577.2" width="15.9" height="15.7" fill="#FFFF00"/>
<text x="318" y="591.2" font-size="16.9" fill="#111" font-style="italic">Rhodocyclaceae</text>
<rect x="288.4" y="594.42" width="15.9" height="15.7" fill="#FF0000"/>
<text x="318" y="608.42" font-size="16.9" fill="#111" font-style="italic">Verrucomicrobiaceae</text>
<rect x="288.4" y="611.64" width="15.9" height="15.7" fill="#006400"/>
<text x="318" y="625.64" font-size="16.9" fill="#111" font-style="italic">Xanthobacter</text>
<rect x="288.4" y="628.86" width="15.9" height="15.7" fill="#8B5742"/>
<text x="315.6" y="642.86" font-size="16.9" fill="#111">Other</text>
</svg>
</body></html>
